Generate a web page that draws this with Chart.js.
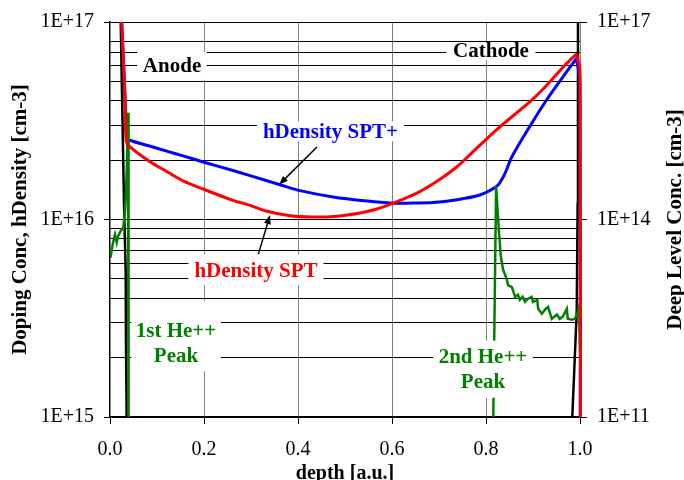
<!DOCTYPE html>
<html>
<head>
<meta charset="utf-8">
<script src="https://cdn.jsdelivr.net/npm/chart.js@4.4.1/dist/chart.umd.min.js"></script>
<style>
  html, body { margin: 0; padding: 0; background: #fff; }
  #wrap { width: 684px; height: 480px; }
</style>
</head>
<body>
<div id="wrap"><canvas id="c" width="684" height="480"></canvas></div>
<script>
// ---- hDensity SPT (left axis) ----
const depthSPT = [0.019, 0.0248, 0.0315, 0.0345, 0.0426, 0.0851, 0.1206, 0.1553, 0.200, 0.2617, 0.2979, 0.334, 0.383, 0.4298, 0.483, 0.5319, 0.568, 0.6021, 0.6532, 0.6957, 0.7383, 0.766, 0.8234, 0.8936, 0.9298, 0.9638, 0.9894, 0.9925, 1.0, 1.0];
const hDensitySPT = [2e17, 1e17, 4.3e16, 2.5e16, 2.33e16, 1.96e16, 1.75e16, 1.57e16, 1.42e16, 1.25e16, 1.18e16, 1.10e16, 1.045e16, 1.03e16, 1.04e16, 1.08e16, 1.13e16, 1.21e16, 1.36e16, 1.56e16, 1.85e16, 2.13e16, 2.86e16, 3.95e16, 4.8e16, 5.9e16, 6.77e16, 6.85e16, 5.5e16, 1e14];

// ---- hDensity SPT+ (left axis) ----
const depthSPTplus = [0.019, 0.0248, 0.0315, 0.0355, 0.0426, 0.08, 0.1206, 0.1553, 0.2, 0.2617, 0.334, 0.3617, 0.4043, 0.4745, 0.5468, 0.6021, 0.6319, 0.6872, 0.7383, 0.787, 0.821, 0.8298, 0.8404, 0.8547, 0.8936, 0.9291, 0.9638, 0.9894, 0.992, 1.0, 1.0];
const hDensitySPTplus = [2e17, 1e17, 4.5e16, 2.6e16, 2.52e16, 2.37e16, 2.22e16, 2.10e16, 1.95e16, 1.77e16, 1.57e16, 1.50e16, 1.40e16, 1.30e16, 1.24e16, 1.21e16, 1.21e16, 1.22e16, 1.26e16, 1.33e16, 1.46e16, 1.54e16, 1.71e16, 2.07e16, 2.97e16, 4.04e16, 5.28e16, 6.39e16, 6.5e16, 5e16, 1e14];

// ---- Doping concentration (left axis) ----
const depthDoping = [0.020, 0.0228, 0.0298, 0.0334, 0.0340, 0.0355, 0.036, 0.982, 0.9836, 0.993, 0.995, 0.9957, 0.996];
const dopingConc = [3e17, 1e17, 1.2e16, 5.4e15, 2.3e15, 1e15, 5e14, 5e14, 1e15, 3.4e15, 1.2e16, 1e17, 3e17];

// ---- Deep level concentration (right axis) ----
const depthDeep = [0.001, 0.0064, 0.0106, 0.0143, 0.0177, 0.0228, 0.0283, 0.0319, 0.034, 0.0362, 0.0383, 0.0392, 0.0398, 0.815, 0.8155, 0.8215, 0.8241, 0.8277, 0.8313, 0.8362, 0.8441, 0.847, 0.855, 0.862, 0.868, 0.872, 0.878, 0.883, 0.889, 0.897, 0.900, 0.909, 0.911, 0.919, 0.926, 0.932, 0.940, 0.951, 0.957, 0.964, 0.972, 0.974, 0.983, 0.989, 0.996, 0.998, 1.0];
const deepLevelConc = [2.65e13, 4.45e13, 5.9e13, 4.45e13, 5.66e13, 6.7e13, 7.5e13, 1.4e14, 2.5e14, 7.8e14, 4.2e15, 4.0e15, 1e10, 1e10, 1e11, 3.2e14, 1.6e14, 6.3e13, 2.85e13, 1.75e13, 1.24e13, 1.01e13, 9.4e12, 6.7e12, 7.2e12, 6.0e12, 6.7e12, 5.6e12, 6.2e12, 6.7e12, 5.6e12, 6.0e12, 4.4e12, 3.7e12, 4.3e12, 4.7e12, 3.1e12, 3.6e12, 3.1e12, 3.4e12, 4.4e12, 3.1e12, 3.0e12, 3.1e12, 4.0e12, 5.1e12, 1.0e12];

// ---- axis ticks ----
const depthTicks = [0, 0.2, 0.4, 0.6, 0.8, 1.0];
const leftMajorTicks = [1e15, 1e16, 1e17];
const leftMinorTicks = [2e15, 3e15, 4e15, 5e15, 6e15, 7e15, 8e15, 9e15, 2e16, 3e16, 4e16, 5e16, 6e16, 7e16, 8e16];
const rightTicks = [1e11, 1e14, 1e17];

const SERIF = '"Liberation Serif", "Times New Roman", Times, serif';

const pairs = (xs, ys) => xs.map((v, i) => ({ x: v, y: ys[i] }));
const isDecade = v => Math.abs(Math.log10(v) - Math.round(Math.log10(v))) < 1e-9;
const sci = v => '1E+' + Math.round(Math.log10(v));

// Callout texts with white boxes (positions in data units of x / left y)
const callouts = [
  { lines: ['Anode'], x: 0.132, y: 6.0e16, color: '#000000', pad: [5.5, 7, 7] },
  { lines: ['Cathode'], x: 0.8106, y: 7.13e16, color: '#000000', pad: [6.5, 2, 2] },
  { lines: ['hDensity SPT+'], x: 0.469, y: 2.795e16, color: '#0000ff', pad: [6, 3, 3] },
  { lines: ['hDensity SPT'], x: 0.3106, y: 5.54e15, color: '#ff0000', pad: [6, 9, 8] },
  { lines: ['1st He++', 'Peak'], x: 0.1404, y: 2.75e15, color: '#008000', pad: [4.5, 22, 9] },
  { lines: ['2nd He++', 'Peak'], x: 0.7936, y: 2.02e15, color: '#008000', pad: [5.5, 9, 9] }
];
const pointers = [
  { from: [0.4404, 2.33e16], to: [0.3596, 1.50e16] },
  { from: [0.3149, 6.58e15], to: [0.3404, 1.053e16] }
];

const calloutPlugin = {
  id: 'callouts',
  afterDatasetsDraw(chart) {
    const { ctx } = chart;
    const xs = chart.scales.x, ys = chart.scales.y;
    ctx.save();
    // arrows
    pointers.forEach(p => {
      const x0 = xs.getPixelForValue(p.from[0]), y0 = ys.getPixelForValue(p.from[1]);
      const x1 = xs.getPixelForValue(p.to[0]), y1 = ys.getPixelForValue(p.to[1]);
      const a = Math.atan2(y1 - y0, x1 - x0);
      const head = 9, half = 3.5;
      const c = Math.cos(a), s = Math.sin(a);
      ctx.strokeStyle = '#000';
      ctx.lineWidth = 1.5;
      ctx.beginPath();
      ctx.moveTo(x0, y0);
      ctx.lineTo(x1 - head * c * 0.8, y1 - head * s * 0.8);
      ctx.stroke();
      ctx.beginPath();
      ctx.moveTo(x1, y1);
      ctx.lineTo(x1 - head * c + half * s, y1 - head * s - half * c);
      ctx.lineTo(x1 - head * c - half * s, y1 - head * s + half * c);
      ctx.closePath();
      ctx.fillStyle = '#000';
      ctx.fill();
    });
    // labels
    ctx.font = 'bold 21px ' + SERIF;
    ctx.textAlign = 'center';
    ctx.textBaseline = 'middle';
    const lineGap = 25, capHalf = 7;
    callouts.forEach(l => {
      const cx = xs.getPixelForValue(l.x), cy = ys.getPixelForValue(l.y);
      const w = Math.max(...l.lines.map(t => ctx.measureText(t).width));
      const top = cy - capHalf - l.pad[1];
      const bottom = cy + (l.lines.length - 1) * lineGap + capHalf + l.pad[2];
      ctx.fillStyle = '#ffffff';
      ctx.fillRect(cx - w / 2 - l.pad[0], top, w + 2 * l.pad[0], bottom - top);
      ctx.fillStyle = l.color;
      l.lines.forEach((t, i) => ctx.fillText(t, cx, cy + i * lineGap + 1));
    });
    ctx.restore();
  },
  afterDraw(chart) {
    // right axis title, reading bottom to top
    const { ctx, chartArea } = chart;
    ctx.save();
    ctx.translate(676, (chartArea.top + chartArea.bottom) / 2);
    ctx.rotate(-Math.PI / 2);
    ctx.font = 'bold 21px ' + SERIF;
    ctx.fillStyle = '#000';
    ctx.textAlign = 'center';
    ctx.textBaseline = 'middle';
    ctx.fillText('Deep Level Conc. [cm-3]', 0, 0);
    ctx.restore();
  }
};

const tickFont = { family: SERIF, size: 20 };
// let the steep edges at depth 1.0 show their full stroke width
const edgeClip = { left: 0, top: 0, right: 3, bottom: 0 };

new Chart(document.getElementById('c'), {
  type: 'line',
  data: {
    datasets: [
      { label: 'hDensity SPT', data: pairs(depthSPT, hDensitySPT), borderColor: '#ff0000', borderWidth: 3, tension: 0.3, clip: edgeClip, yAxisID: 'y' },
      { label: 'Deep Level Conc.', data: pairs(depthDeep, deepLevelConc), borderColor: '#008000', borderWidth: 2.5, clip: edgeClip, yAxisID: 'y2' },
      { label: 'hDensity SPT+', data: pairs(depthSPTplus, hDensitySPTplus), borderColor: '#0000ff', borderWidth: 3, tension: 0.3, clip: edgeClip, yAxisID: 'y' },
      { label: 'Doping Conc', data: pairs(depthDoping, dopingConc), borderColor: '#000000', borderWidth: 2.5, yAxisID: 'y' }
    ]
  },
  options: {
    responsive: false,
    animation: false,
    devicePixelRatio: 1,
    elements: { point: { radius: 0 }, line: { tension: 0, fill: false } },
    layout: { padding: { top: 16, left: 0, right: 0, bottom: 0 } },
    plugins: { legend: { display: false }, tooltip: { enabled: false } },
    scales: {
      x: {
        type: 'linear', position: 'bottom', min: 0, max: 1,
        afterFit: s => { s.height = 63; },
        afterBuildTicks: s => { s.ticks = depthTicks.map(v => ({ value: v })); },
        ticks: { callback: v => Number(v).toFixed(1), font: tickFont, color: '#000', padding: 14, maxRotation: 0, autoSkip: false },
        grid: {
          color: c => (c.tick && c.tick.value === 0) ? 'rgba(0,0,0,0)' : '#808080',
          lineWidth: 1, tickColor: '#000', tickLength: 7
        },
        border: { color: '#000', width: 1.5 },
        title: { display: true, text: 'depth [a.u.]', color: '#000', font: { family: SERIF, size: 20, weight: 'bold', lineHeight: 1 }, padding: { top: 0, bottom: -4 } }
      },
      y: {
        type: 'logarithmic', position: 'left', min: 1e15, max: 1e17,
        afterFit: s => { s.width = 110; },
        afterBuildTicks: s => {
          s.ticks = leftMajorTicks.concat(leftMinorTicks).sort((a, b) => a - b).map(v => ({ value: v, major: isDecade(v) }));
        },
        ticks: { callback: v => isDecade(v) ? sci(v) : '', font: tickFont, color: '#000', padding: 10, autoSkip: false },
        grid: {
          color: '#000', lineWidth: 1, tickLength: 6,
          tickColor: c => (c.tick && isDecade(c.tick.value)) ? '#000' : 'rgba(0,0,0,0)'
        },
        border: { color: '#000', width: 1.5 },
        title: { display: true, text: 'Doping Conc, hDensity [cm-3]', color: '#000', font: { family: SERIF, size: 21, weight: 'bold', lineHeight: 1 }, padding: { top: 10.5, bottom: 0 } }
      },
      y2: {
        type: 'logarithmic', position: 'right', min: 1e11, max: 1e17,
        afterFit: s => { s.width = 104; },
        afterBuildTicks: s => { s.ticks = rightTicks.map(v => ({ value: v, major: true })); },
        ticks: { callback: v => sci(v), font: tickFont, color: '#000', padding: 10, autoSkip: false },
        grid: { drawOnChartArea: false, tickLength: 7, tickColor: '#000' },
        border: { display: false }
      }
    }
  },
  plugins: [calloutPlugin]
});
</script>
</body>
</html>
